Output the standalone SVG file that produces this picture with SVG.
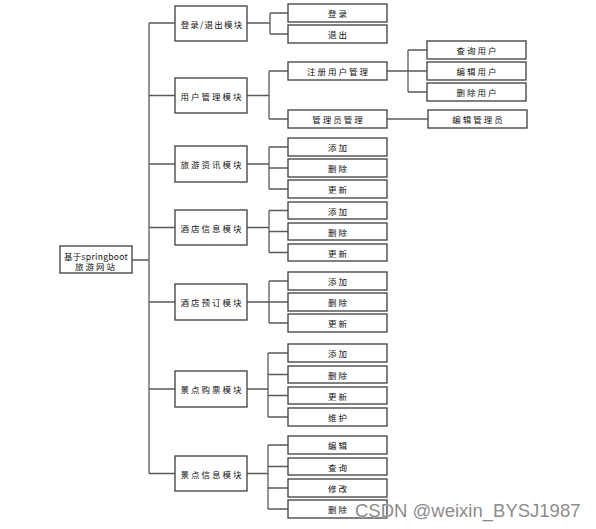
<svg xmlns="http://www.w3.org/2000/svg" width="596" height="529" viewBox="0 0 596 529">
<style>
.b{fill:#fff;stroke:#4a4a4a;stroke-width:1.4}
.t{font-family:"Noto Sans CJK SC","Liberation Sans",sans-serif;font-size:8.5px;letter-spacing:2px;fill:#111;text-anchor:middle;dominant-baseline:central}
.c{fill:none;stroke:#5a5a5a;stroke-width:1.3}
.w{font-family:"Liberation Sans",Arial,sans-serif;font-size:18.5px;fill:#8c8c8c;stroke:#fff;stroke-width:0.6;paint-order:stroke}
</style>
<rect width="596" height="529" fill="#fff"/>
<g id="connectors">
<path class="c" d="M132 260H149M149 23V473.5"/>
<path class="c" d="M149 23H175M149 95.5H175M149 164H175M149 227.5H175M149 302H175M149 389H175M149 473.5H175"/>
<path class="c" d="M247 23H270M270 13V34M270 13H288M270 34H288"/>
<path class="c" d="M247 95.5H269M269 71V119M269 71H288M269 119H288"/>
<path class="c" d="M387 71H408M408 50V92M408 50H427M408 71H427M408 92H427"/>
<path class="c" d="M387 119H428"/>
<path class="c" d="M247 164H269M269 147V189M269 147H288M269 168H288M269 189H288"/>
<path class="c" d="M247 227.5H269M269 210.5V252.5M269 210.5H288M269 231.5H288M269 252.5H288"/>
<path class="c" d="M247 302H269M269 281V323M269 281H288M269 302H288M269 323H288"/>
<path class="c" d="M247 389H268M268 353V417M268 353H288M268 374.5H288M268 395.5H288M268 417H288"/>
<path class="c" d="M247 473.5H268M268 445V509M268 445H288M268 466.5H288M268 488H288M268 509H288"/>
</g>
<g id="root"><rect class="b" x="60" y="246" width="72" height="27"/><text class="t" x="96" y="255.5" style="letter-spacing:0.3px">基于springboot</text><text class="t" x="96" y="266">旅游网站</text></g>
<g id="m1"><rect class="b" x="175" y="6" width="72" height="35"/><text class="t" x="212" y="23.5" style="letter-spacing:1.2px">登录/退出模块</text></g>
<g id="m1a"><rect class="b" x="288" y="4" width="99" height="18"/><text class="t" x="338.5" y="13">登录</text></g>
<g id="m1b"><rect class="b" x="288" y="25" width="99" height="18"/><text class="t" x="338.5" y="34">退出</text></g>
<g id="m2"><rect class="b" x="175" y="78" width="72" height="35"/><text class="t" x="212" y="95.5">用户管理模块</text></g>
<g id="m2a"><rect class="b" x="288" y="62" width="99" height="18"/><text class="t" x="338.5" y="71">注册用户管理</text></g>
<g id="m2b"><rect class="b" x="288" y="110" width="99" height="18"/><text class="t" x="338.5" y="119">管理员管理</text></g>
<g id="m2a1"><rect class="b" x="427" y="41" width="99" height="18"/><text class="t" x="477.5" y="50">查询用户</text></g>
<g id="m2a2"><rect class="b" x="427" y="62" width="99" height="18"/><text class="t" x="477.5" y="71">编辑用户</text></g>
<g id="m2a3"><rect class="b" x="427" y="83" width="99" height="18"/><text class="t" x="477.5" y="92">删除用户</text></g>
<g id="m2b1"><rect class="b" x="428" y="110" width="99" height="18"/><text class="t" x="478.5" y="119">编辑管理员</text></g>
<g id="m3"><rect class="b" x="175" y="146" width="72" height="36"/><text class="t" x="212" y="164">旅游资讯模块</text></g>
<g id="m3a"><rect class="b" x="288" y="138" width="99" height="18"/><text class="t" x="338.5" y="147">添加</text></g>
<g id="m3b"><rect class="b" x="288" y="159" width="99" height="18"/><text class="t" x="338.5" y="168">删除</text></g>
<g id="m3c"><rect class="b" x="288" y="180" width="99" height="18"/><text class="t" x="338.5" y="189">更新</text></g>
<g id="m4"><rect class="b" x="175" y="210" width="72" height="35"/><text class="t" x="212" y="227.5">酒店信息模块</text></g>
<g id="m4a"><rect class="b" x="288" y="202" width="99" height="17"/><text class="t" x="338.5" y="210.5">添加</text></g>
<g id="m4b"><rect class="b" x="288" y="223" width="99" height="17"/><text class="t" x="338.5" y="231.5">删除</text></g>
<g id="m4c"><rect class="b" x="288" y="244" width="99" height="17"/><text class="t" x="338.5" y="252.5">更新</text></g>
<g id="m5"><rect class="b" x="175" y="284" width="72" height="36"/><text class="t" x="212" y="302">酒店预订模块</text></g>
<g id="m5a"><rect class="b" x="288" y="272" width="99" height="18"/><text class="t" x="338.5" y="281">添加</text></g>
<g id="m5b"><rect class="b" x="288" y="293" width="99" height="18"/><text class="t" x="338.5" y="302">删除</text></g>
<g id="m5c"><rect class="b" x="288" y="314" width="99" height="18"/><text class="t" x="338.5" y="323">更新</text></g>
<g id="m6"><rect class="b" x="175" y="371" width="72" height="36"/><text class="t" x="212" y="389">景点购票模块</text></g>
<g id="m6a"><rect class="b" x="288" y="344" width="99" height="18"/><text class="t" x="338.5" y="353">添加</text></g>
<g id="m6b"><rect class="b" x="288" y="366" width="99" height="17"/><text class="t" x="338.5" y="374.5">删除</text></g>
<g id="m6c"><rect class="b" x="288" y="387" width="99" height="17"/><text class="t" x="338.5" y="395.5">更新</text></g>
<g id="m6d"><rect class="b" x="288" y="408" width="99" height="18"/><text class="t" x="338.5" y="417">维护</text></g>
<g id="m7"><rect class="b" x="175" y="456" width="72" height="35"/><text class="t" x="212" y="473.5">景点信息模块</text></g>
<g id="m7a"><rect class="b" x="288" y="436" width="99" height="18"/><text class="t" x="338.5" y="445">编辑</text></g>
<g id="m7b"><rect class="b" x="288" y="458" width="99" height="17"/><text class="t" x="338.5" y="466.5">查询</text></g>
<g id="m7c"><rect class="b" x="288" y="479" width="99" height="18"/><text class="t" x="338.5" y="488">修改</text></g>
<g id="m7d"><rect class="b" x="288" y="500" width="99" height="18"/><text class="t" x="338.5" y="509">删除</text></g>
<text class="w" x="355" y="517">CSDN @weixin_BYSJ1987</text>
</svg>
